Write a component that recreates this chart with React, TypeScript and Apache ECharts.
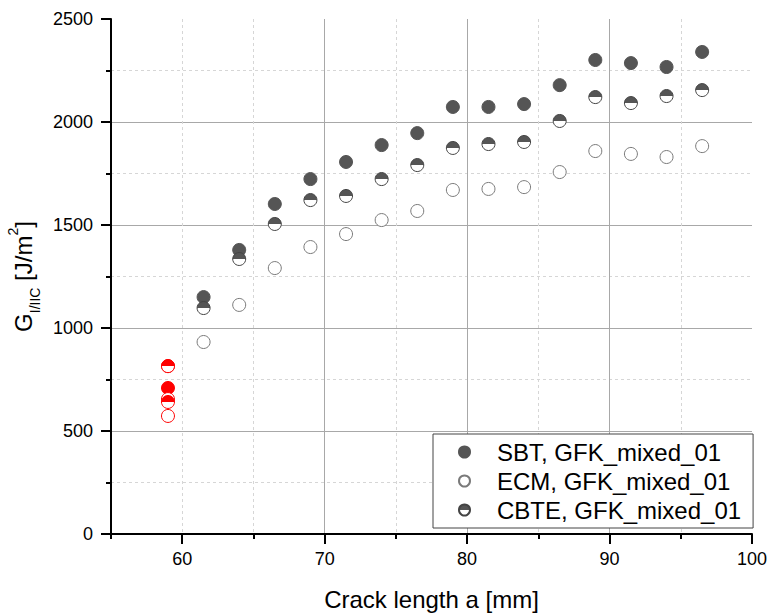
import React, { useEffect, useRef } from 'react';
import * as echarts from 'echarts';

// Crack length a [mm]
const crackLength = [61.5, 64, 66.5, 69, 71.5, 74, 76.5, 79, 81.5, 84, 86.5, 89, 91.5, 94, 96.5];
// G_I/IIC [J/m^2]
const sbtValues = [1150, 1379, 1602, 1723, 1806, 1888, 1946, 2073, 2073, 2087, 2179, 2301, 2286, 2267, 2340];
const ecmValues = [932, 1112, 1291, 1393, 1456, 1524, 1568, 1670, 1675, 1684, 1757, 1859, 1845, 1830, 1883];
const cbteValues = [1097, 1335, 1505, 1621, 1641, 1723, 1791, 1874, 1893, 1903, 2005, 2121, 2092, 2126, 2155];

// initial (red) points
const initialLength = 59;
const sbtInitial = [815, 709];
const ecmInitial = [655, 573];
const cbteInitial = [815, 641];

const seriesNames = ['SBT, GFK_mixed_01', 'ECM, GFK_mixed_01', 'CBTE, GFK_mixed_01'];
const xMajorTicks = [60, 70, 80, 90, 100];

const FONT = '"Liberation Sans", Arial, sans-serif';

const half = (top: string) =>
  new echarts.graphic.LinearGradient(0, 0, 0, 1, [
    { offset: 0, color: top },
    { offset: 0.5, color: top },
    { offset: 0.5, color: '#ffffff' },
    { offset: 1, color: '#ffffff' },
  ]);

export default function App() {
  const ref = useRef<HTMLDivElement>(null);

  useEffect(() => {
    if (!ref.current) return;
    const chart = echarts.init(ref.current, undefined, { renderer: 'svg' });

    const RED = '#ff0000';
    const sbtData = [
      ...sbtInitial.map((v) => ({ value: [initialLength, v], itemStyle: { color: RED, borderColor: RED } })),
      ...crackLength.map((x, i) => [x, sbtValues[i]]),
    ];
    const ecmData = [
      ...ecmInitial.map((v) => ({ value: [initialLength, v], itemStyle: { color: '#ffffff', borderColor: RED } })),
      ...crackLength.map((x, i) => [x, ecmValues[i]]),
    ];
    const cbteData = [
      ...cbteInitial.map((v) => ({ value: [initialLength, v], itemStyle: { color: half(RED), borderColor: RED } })),
      ...crackLength.map((x, i) => [x, cbteValues[i]]),
    ];

    chart.setOption({
      animation: false,
      textStyle: { fontFamily: FONT },
      grid: { left: 111, right: 20, top: 19, bottom: 81, containLabel: false, outerBoundsMode: 'none' },
      legend: {
        orient: 'vertical',
        left: 433,
        top: 434,
        padding: [6, 12, 6, 25],
        itemGap: 5,
        itemWidth: 55,
        itemHeight: 11,
        backgroundColor: '#ffffff',
        borderColor: '#444444',
        borderWidth: 1,
        borderRadius: 0,
        textStyle: { fontSize: 24, lineHeight: 24, color: '#000000', fontFamily: FONT },
        data: seriesNames,
      },
      xAxis: [
        {
          type: 'value',
          min: 55,
          max: 100,
          interval: 5,
          position: 'bottom',
          axisLine: { show: true, onZero: false, lineStyle: { color: '#000', width: 2 } },
          axisTick: { show: true, inside: false, length: 5, lineStyle: { color: '#000', width: 2 } },
          axisLabel: {
            show: true,
            margin: 16,
            fontSize: 18,
            color: '#000',
            fontFamily: FONT,
            formatter: (v: number) => (v % 10 === 0 ? String(v) : ''),
          },
          splitLine: {
            show: true,
            showMinLine: false,
            showMaxLine: false,
            lineStyle: { color: '#d6d6d6', width: 1, type: [3, 3] },
          },
          name: 'Crack length a [mm]',
          nameLocation: 'middle',
          nameGap: 53,
          nameTextStyle: { fontSize: 24, color: '#000', fontFamily: FONT },
        },
        {
          type: 'value',
          min: 55,
          max: 100,
          interval: 5,
          position: 'bottom',
          axisLine: { show: false, onZero: false },
          axisTick: {
            show: true,
            inside: false,
            length: 10,
            customValues: xMajorTicks,
            lineStyle: { color: '#000', width: 2 },
          },
          axisLabel: { show: false },
          splitLine: {
            show: true,
            showMinLine: false,
            showMaxLine: false,
            lineStyle: { color: '#a8a8a8', width: 1 },
          },
        },
      ],
      yAxis: {
        type: 'value',
        min: 0,
        max: 2500,
        interval: 500,
        axisLine: { show: true, onZero: false, lineStyle: { color: '#000', width: 2 } },
        axisTick: { show: true, inside: false, length: 10, lineStyle: { color: '#000', width: 2 } },
        minorTick: { show: true, splitNumber: 2, length: 5, lineStyle: { color: '#000', width: 2 } },
        splitLine: {
          show: true,
          showMinLine: false,
          showMaxLine: false,
          lineStyle: { color: '#a8a8a8', width: 1 },
        },
        minorSplitLine: { show: true, lineStyle: { color: '#d6d6d6', width: 1, type: [3, 3] } },
        axisLabel: {
          margin: 18,
          fontSize: 18,
          color: '#000',
          fontFamily: FONT,
          formatter: (v: number) => String(v),
        },
        name: '{m|G}{sub|I/IIC}{m| [J/m}{sup|2}{m|]}',
        nameLocation: 'middle',
        nameRotate: 90,
        nameGap: 67,
        nameTextStyle: {
          color: '#000',
          fontFamily: FONT,
          rich: {
            m: { fontSize: 24, lineHeight: 38, verticalAlign: 'middle', color: '#000', fontFamily: FONT },
            sub: { fontSize: 14, lineHeight: 14, verticalAlign: 'bottom', color: '#000', fontFamily: FONT },
            sup: { fontSize: 14, lineHeight: 14, verticalAlign: 'top', color: '#000', fontFamily: FONT, padding: [2, 0, 0, 0] },
          },
        },
      },
      series: [
        {
          name: seriesNames[0],
          type: 'scatter',
          xAxisIndex: 0,
          symbol: 'circle',
          symbolSize: 13,
          itemStyle: { color: '#555555', borderColor: '#555555', borderWidth: 1, opacity: 1 },
          data: sbtData,
        },
        {
          name: seriesNames[1],
          type: 'scatter',
          xAxisIndex: 0,
          symbol: 'circle',
          symbolSize: 13,
          itemStyle: { color: '#ffffff', borderColor: '#7a7a7a', borderWidth: 1, opacity: 1 },
          data: ecmData,
        },
        {
          name: seriesNames[2],
          type: 'scatter',
          xAxisIndex: 0,
          symbol: 'circle',
          symbolSize: 13,
          itemStyle: { color: half('#555555'), borderColor: '#444444', borderWidth: 1, opacity: 1 },
          data: cbteData,
        },
      ],
    });

    return () => chart.dispose();
  }, []);

  return (
    <div
      ref={ref}
      style={{ position: 'fixed', left: 0, top: 0, width: 772, height: 615, background: '#fff' }}
    />
  );
}
